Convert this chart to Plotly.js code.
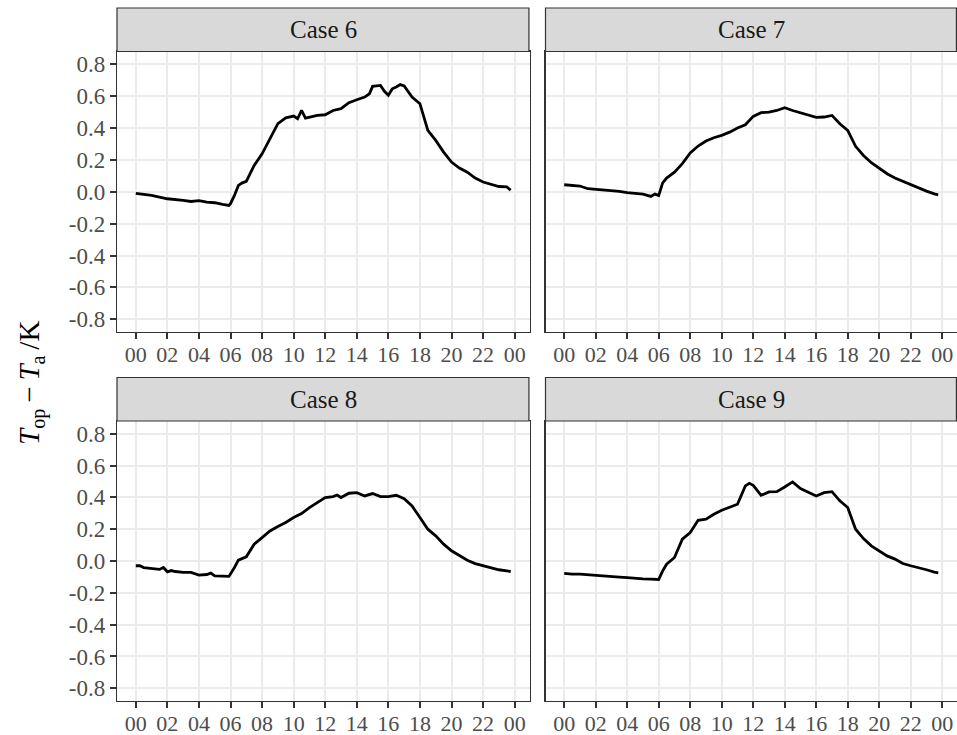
<!DOCTYPE html>
<html>
<head>
<meta charset="utf-8">
<script src="https://cdn.plot.ly/plotly-3.0.1.min.js"></script>
<style>html,body{margin:0;padding:0;background:#fff;}#chart{width:957px;height:735px;}</style>
</head>
<body>
<div id="chart"></div>
<script>
// ---- data (hours of day, T_op - T_a in K) ----
const caseNames = ["Case 6", "Case 7", "Case 8", "Case 9"];

const case6Hours = [0,1,2,2.5,3,3.5,4,4.5,5,5.5,5.9,6,6.25,6.5,6.75,7,7.25,7.5,8,8.5,9,9.5,10,10.25,10.5,10.75,11,11.5,12,12.5,13,13.5,14,14.5,14.8,15,15.5,15.75,16,16.25,16.5,16.75,17,17.5,18,18.5,19,19.5,20,20.5,21,21.5,22,22.5,23,23.5,23.75];
const case6Values = [-0.01,-0.023,-0.044,-0.048,-0.054,-0.061,-0.056,-0.065,-0.069,-0.079,-0.086,-0.075,-0.023,0.04,0.056,0.065,0.113,0.165,0.238,0.333,0.427,0.464,0.475,0.458,0.51,0.462,0.469,0.479,0.483,0.51,0.521,0.559,0.577,0.594,0.615,0.661,0.667,0.63,0.605,0.646,0.657,0.672,0.664,0.594,0.552,0.385,0.322,0.249,0.186,0.149,0.123,0.086,0.061,0.046,0.033,0.03,0.01];

const case7Hours = [0,0.5,1,1.5,2,2.5,3,3.5,4,4.5,5,5.5,5.75,6,6.25,6.5,7,7.5,8,8.5,9,9.5,10,10.5,11,11.5,12,12.5,13,13.5,14,14.5,15,15.5,16,16.5,17,17.5,18,18.5,19,19.5,20,20.5,21,21.5,22,22.5,23,23.5,23.75];
const case7Values = [0.044,0.038,0.036,0.019,0.015,0.008,0.004,0.002,-0.006,-0.01,-0.015,-0.029,-0.015,-0.023,0.056,0.086,0.123,0.176,0.243,0.287,0.318,0.339,0.354,0.374,0.4,0.42,0.473,0.496,0.5,0.51,0.527,0.51,0.496,0.483,0.467,0.469,0.479,0.427,0.385,0.285,0.228,0.182,0.149,0.113,0.086,0.065,0.044,0.025,0.004,-0.013,-0.019];

const case8Hours = [0,0.25,0.5,1,1.5,1.75,2,2.25,2.5,3,3.5,4,4.5,4.75,5,5.5,5.9,6.25,6.5,7,7.5,8,8.5,9,9.5,10,10.5,11,11.5,12,12.5,12.75,13,13.5,14,14.5,15,15.5,16,16.5,17,17.5,18,18.5,19,19.5,20,20.5,21,21.5,22,22.5,23,23.5,23.75];
const case8Values = [-0.03,-0.03,-0.041,-0.047,-0.053,-0.041,-0.068,-0.06,-0.066,-0.072,-0.072,-0.089,-0.085,-0.076,-0.093,-0.095,-0.097,-0.041,0.005,0.026,0.106,0.147,0.189,0.217,0.242,0.273,0.298,0.336,0.367,0.399,0.405,0.415,0.399,0.426,0.43,0.409,0.424,0.405,0.405,0.413,0.392,0.346,0.273,0.2,0.158,0.106,0.064,0.032,0.005,-0.016,-0.03,-0.041,-0.055,-0.062,-0.066];

const case9Hours = [0,0.5,1,1.5,2,2.5,3,3.5,4,4.5,5,5.5,6,6.25,6.5,7,7.5,8,8.5,9,9.5,10,10.5,11,11.5,11.75,12,12.5,13,13.5,14,14.5,15,15.5,16,16.5,17,17.5,18,18.5,19,19.5,20,20.5,21,21.5,22,22.5,23,23.5,23.75];
const case9Values = [-0.078,-0.083,-0.083,-0.087,-0.093,-0.097,-0.099,-0.101,-0.104,-0.11,-0.112,-0.114,-0.116,-0.062,-0.02,0.022,0.137,0.179,0.256,0.263,0.294,0.319,0.336,0.357,0.472,0.488,0.476,0.413,0.434,0.436,0.465,0.497,0.455,0.434,0.409,0.43,0.436,0.378,0.336,0.2,0.141,0.095,0.064,0.032,0.012,-0.016,-0.03,-0.041,-0.055,-0.07,-0.074];

const xTickVals = [0,2,4,6,8,10,12,14,16,18,20,22,24];
const xTickText = ["00","02","04","06","08","10","12","14","16","18","20","22","00"];
const yTickVals = [-0.8,-0.6,-0.4,-0.2,0,0.2,0.4,0.6,0.8];
const yTickText = ["-0.8","-0.6","-0.4","-0.2","0.0","0.2","0.4","0.6","0.8"];

// ---- layout geometry (pixels of the 957x735 page) ----
const W = 957, H = 735;
const colPx = [[117, 529.5], [545.5, 957]];
const rowPx = [[51.5, 332], [421, 701]];       // plot area top/bottom
const stripPx = [[8, 51.5], [377.5, 421]];     // strip top/bottom
const px = v => v / W;
const py = v => (H - v) / H;

const allHours = [case6Hours, case7Hours, case8Hours, case9Hours];
const allValues = [case6Values, case7Values, case8Values, case9Values];

const FONT = "Liberation Serif";
const traces = [];
const layout = {
  width: W, height: H,
  margin: {l: 0, r: 0, t: 0, b: 0},
  paper_bgcolor: "#ffffff",
  plot_bgcolor: "#ffffff",
  showlegend: false,
  font: {family: FONT, size: 22, color: "#4D4D4D"},
  shapes: [],
  annotations: []
};

for (let i = 0; i < 4; i++) {
  const r = Math.floor(i / 2), c = i % 2;
  const sfx = i === 0 ? "" : String(i + 1);
  traces.push({
    type: "scatter", mode: "lines",
    x: allHours[i], y: allValues[i],
    xaxis: "x" + sfx, yaxis: "y" + sfx,
    line: {color: "#000000", width: 2.8},
    hoverinfo: "skip"
  });
  layout["xaxis" + sfx] = {
    domain: [px(colPx[c][0]), Math.min(1, px(colPx[c][1]))],
    anchor: "y" + sfx,
    range: [-1.19, 24.94],
    tickmode: "array", tickvals: xTickVals, ticktext: xTickText,
    ticks: "outside", ticklen: 6, tickwidth: 2, tickcolor: "#333333",
    ticklabelstandoff: -4,
    showline: true, mirror: true, linecolor: "#333333", linewidth: 1.2,
    showgrid: true, gridcolor: "#EBEBEB", gridwidth: 2,
    zeroline: false, fixedrange: true,
    tickfont: {family: FONT, size: 22, color: "#4D4D4D"}
  };
  layout["yaxis" + sfx] = {
    domain: [py(rowPx[r][1]), py(rowPx[r][0])],
    anchor: "x" + sfx,
    range: [-0.88, 0.88],
    tickmode: "array", tickvals: yTickVals, ticktext: yTickText,
    ticks: c === 0 ? "outside" : "", ticklen: 6, tickwidth: 2, tickcolor: "#333333",
    showticklabels: c === 0,
    showline: true, mirror: true, linecolor: "#333333", linewidth: 1.2,
    showgrid: true, gridcolor: "#EBEBEB", gridwidth: 2,
    zeroline: false, fixedrange: true,
    tickfont: {family: FONT, size: 23, color: "#4D4D4D"}
  };
  // strip
  layout.shapes.push({
    type: "rect", xref: "paper", yref: "paper",
    x0: px(colPx[c][0]), x1: Math.min(1, px(colPx[c][1])) - 0.0006,
    y0: py(stripPx[r][1]), y1: py(stripPx[r][0]),
    fillcolor: "#D9D9D9", line: {color: "#333333", width: 1.2}, layer: "above"
  });
  layout.annotations.push({
    xref: "paper", yref: "paper",
    x: px((colPx[c][0] + colPx[c][1]) / 2), y: py((stripPx[r][0] + stripPx[r][1]) / 2),
    xanchor: "center", yanchor: "middle", showarrow: false,
    text: caseNames[i],
    font: {family: FONT, size: 25, color: "#1A1A1A"}
  });
}

// y-axis title shared by the rows
layout.annotations.push({
  xref: "paper", yref: "paper",
  x: px(32), y: py(383),
  xanchor: "center", yanchor: "middle", showarrow: false,
  textangle: -90,
  text: "<i>T</i><sub>op</sub>\u2009\u2212\u2009<i>T</i><sub>a</sub>\u2009/K",
  font: {family: FONT, size: 29, color: "#000000"}
});

Plotly.newPlot("chart", traces, layout, {staticPlot: true, displayModeBar: false});
</script>
</body>
</html>
